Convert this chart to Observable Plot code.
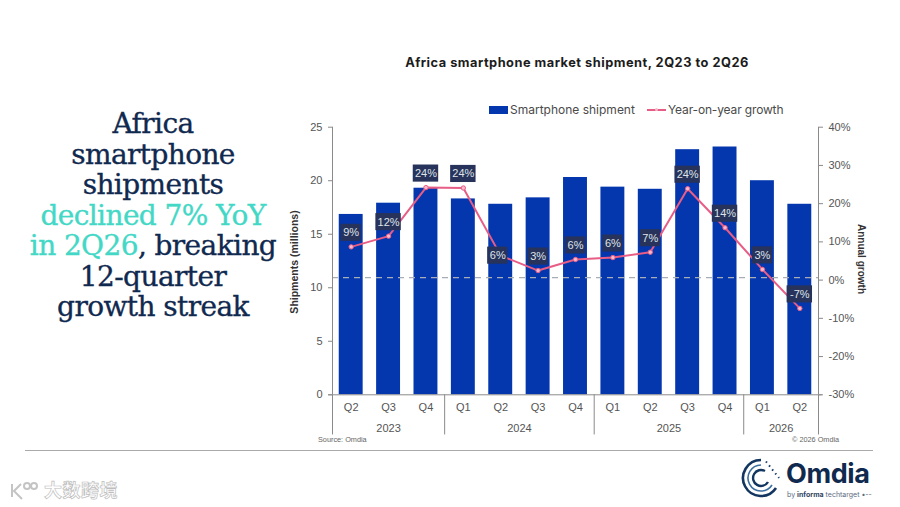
<!DOCTYPE html>
<html><head><meta charset="utf-8">
<script src="https://cdn.jsdelivr.net/npm/d3@7"></script>
<script src="https://cdn.jsdelivr.net/npm/@observablehq/plot@0.6"></script>
<style>
html,body{margin:0;padding:0;background:#fff}
#page{position:relative;width:900px;height:507px;overflow:hidden;background:#fff}
#page>div{position:absolute;white-space:nowrap}
#chart{left:0;top:0}
#chart svg{display:block;background:transparent}
#headline{left:18px;top:109px;width:270px;text-align:center;font:500 28px/30.5px "DejaVu Serif",serif;color:#10294f;letter-spacing:-0.6px;-webkit-text-stroke:.35px currentColor}
#headline span{color:#43d8c6}
#title{left:300px;width:554px;top:55px;text-align:center;font:700 12.8px Inter,Arial,sans-serif;color:#1c1c1c;letter-spacing:.5px}
.leg{font:12px Inter,Arial,sans-serif;color:#4a4a4a;top:102px}
.swatch{left:489px;top:105.5px;width:18.5px;height:8px;background:#0437ae}
.src{font:7.3px "Liberation Sans",Arial,sans-serif;color:#666;top:435px}
#foot{left:25px;top:449.5px;width:848px;height:1.4px;background:#aaa}
#mark{left:44px;top:476px;font:700 18px "Noto Sans CJK SC",sans-serif;color:#fff;-webkit-text-stroke:.7px #bdbdbd;letter-spacing:.5px}
#markK{left:9px;top:480px;width:30px;height:22px}
#omdia{left:786px;top:457px;font:700 27px Inter,Arial,sans-serif;color:#0f2a4e;letter-spacing:-.4px}
#by{left:787px;top:490px;font:7px Inter,Arial,sans-serif;color:#5b6b80}
#by b{color:#30435e}
#ring{left:741px;top:458px;width:40px;height:40px}
</style></head>
<body><div id="page">
<div id="headline">Africa<br>smartphone<br>shipments<br><span>declined 7% YoY</span><br><span>in 2Q26</span>, breaking<br>12-quarter<br>growth streak</div>
<div id="title">Africa smartphone market shipment, 2Q23 to 2Q26</div>
<div id="chart"></div>
<div class="swatch"></div>
<div class="leg" style="left:510px">Smartphone shipment</div>
<div class="leg" style="left:668px;letter-spacing:-.15px">Year-on-year growth</div>
<div style="left:647px;top:108.5px;width:19px;height:2px;background:#e85d86"></div>
<div style="left:655px;top:108px;width:3px;height:3px;border-radius:50%;background:#f7b8cb"></div>
<div class="src" style="left:318px">Source: Omdia</div>
<div class="src" style="left:792px">© 2026 Omdia</div>
<div id="foot"></div>
<div id="markK"><svg width="30" height="22" viewBox="0 0 30 22" fill="none" stroke="#c4c4c4" stroke-width="2"><path d="M3 4V17M12 4L5 11L13 19"/><circle cx="18" cy="6" r="3"/><circle cx="25" cy="6" r="3"/></svg></div>
<div id="mark">大数跨境</div>
<div id="ring"><svg width="40" height="40" viewBox="0 0 40 40" fill="none" stroke="#123660"><path d="M35 30A18 18 0 1 1 20 2" stroke-width="2.6"/><path d="M31 27A13 13 0 1 1 20 7" stroke-width="1.6" stroke="#3c6ea0"/><path d="M27 24A8 8 0 1 1 24 13" stroke-width="2.4"/><path d="M25 3.5L38 20" stroke-width="2" stroke-dasharray="1.5 3.5"/></svg></div>
<div id="omdia">Omdia</div>
<div id="by">by <b>informa</b> techtarget •--</div>
</div>
<script>
const quarters = ["Q2","Q3","Q4","Q1","Q2","Q3","Q4","Q1","Q2","Q3","Q4","Q1","Q2"];
const shipments = [16.85,17.9,19.3,18.3,17.8,18.4,20.3,19.4,19.2,22.9,23.15,20.0,17.8];
const growth = [8.7,11.5,24.2,24.1,6.4,2.5,5.4,5.9,7.3,23.9,13.7,2.8,-7.4];
const growthLabels = ["9%","12%","24%","24%","6%","3%","6%","6%","7%","24%","14%","3%","-7%"];
const years = ["2023","2024","2025","2026"];
const yearCentres = [1,4.5,8.5,11.5];
const yearEdges = [-0.5,2.5,6.5,10.5,12.5];
const leftTicks = [0,5,10,15,20,25];
const rightTicks = [-30,-20,-10,0,10,20,30,40];

const toY = g => (g + 30) / 70 * 25;
const fromY = v => Math.round(v / 25 * 70 - 30);
const idx = quarters.map((_, i) => i);
const isAnchored = i => i === 4;               // the label that sits on its point
const lift = i => isAnchored(i) ? 0 : 1.31;
const halfW = i => growthLabels[i].length > 2 ? 0.34 : 0.27;
const cx = i => isAnchored(i) ? i - 0.08 : i;
const tickC = "#8a8a8a", textC = "#555";

const plot = Plot.plot({
  width: 900, height: 507,
  marginLeft: 332, marginRight: 82, marginTop: 126.7, marginBottom: 112.7,
  style: {fontFamily: '"Liberation Sans",Arial,sans-serif', fontSize: "11px", overflow: "visible", background: "transparent"},
  x: {domain: [-0.5, 12.5], axis: null},
  y: {domain: [0, 25], axis: null},
  marks: [
    Plot.rectY(idx, {x1: i => i - 0.32, x2: i => i + 0.32, y1: 0, y2: i => shipments[i], fill: "#0437ae"}),
    Plot.ruleY([10.95], {x1: -0.5, x2: 12.5, stroke: "#a9adb5", strokeWidth: 1.3, strokeDasharray: "6 5"}),
    Plot.ruleY([0], {x1: -0.6, x2: 12.6, stroke: tickC, strokeWidth: 1}),
    Plot.ruleX(yearEdges, {y1: 0, y2: -3.75, stroke: tickC, strokeWidth: 1}),
    Plot.ruleX([-0.5, 12.5], {y1: 0, y2: 25, stroke: tickC, strokeWidth: 1}),
    Plot.axisY({anchor: "left", ticks: leftTicks, label: null, tickSize: 4, tickPadding: 6, stroke: tickC, color: textC, fontSize: 11}),
    Plot.axisY({anchor: "right", ticks: rightTicks.map(toY), tickFormat: v => fromY(v) + "%", label: null, tickSize: 4, tickPadding: 6, stroke: tickC, color: textC, fontSize: 11}),
    Plot.axisX({anchor: "bottom", ticks: idx, tickFormat: i => quarters[i], label: null, tickSize: 0, tickPadding: 8, color: textC, fontSize: 11}),
    Plot.text(years, {x: (d, i) => yearCentres[i], y: -3.1, text: d => d, fill: textC, fontSize: 11}),
    Plot.line(idx, {x: i => i, y: i => toY(growth[i]), stroke: "#e85d86", strokeWidth: 2}),
    Plot.dot(idx, {x: i => i, y: i => toY(growth[i]), r: 2.2, fill: "#f7b8cb", stroke: "#e85d86", strokeWidth: 1}),
    Plot.rect(idx, {
      x1: i => cx(i) - halfW(i), x2: i => cx(i) + halfW(i),
      y1: i => toY(growth[i]) + lift(i) - 0.8, y2: i => toY(growth[i]) + lift(i) + 0.8,
      fill: "#27335a"
    }),
    Plot.text(idx, {x: cx, y: i => toY(growth[i]) + lift(i), text: i => growthLabels[i], fill: "#dfe3ea", fontSize: 11}),
    Plot.text(["Shipments (millions)"], {frameAnchor: "left", textAnchor: "middle", dx: -38, dy: 1, rotate: -90, fontSize: 10.5, fontWeight: 700, fill: "#333"}),
    Plot.text(["Annual growth"], {frameAnchor: "right", textAnchor: "middle", dx: 43, dy: -2, rotate: 90, fontSize: 10, fontWeight: 700, fill: "#333"})
  ]
});
document.getElementById("chart").append(plot);
</script>
</body></html>
